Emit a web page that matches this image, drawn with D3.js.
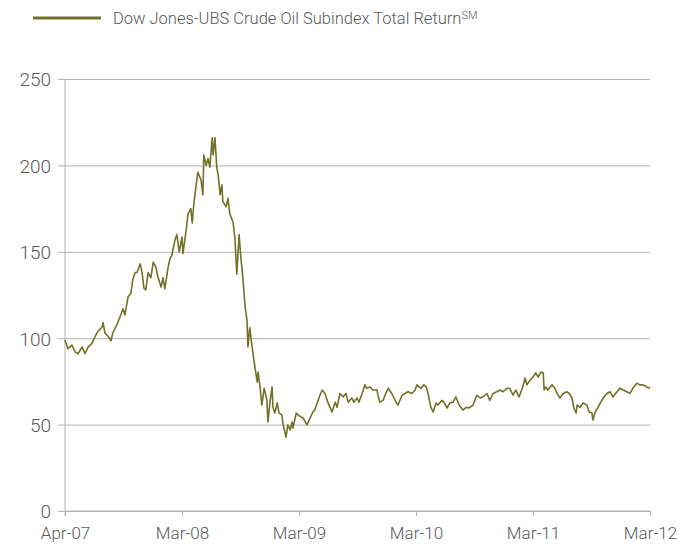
<!DOCTYPE html>
<html>
<head>
<meta charset="utf-8">
<script src="https://cdn.jsdelivr.net/npm/d3@7"></script>
<style>
  body { margin: 0; background: #fff; }
  text { font-family: Roboto, "Liberation Sans", sans-serif; font-weight: 300; }
</style>
</head>
<body>
<svg id="chart" width="680" height="547"></svg>
<script>
// trading day since start (approx) and index level
var tradingDay = [0,6,15,22,28,37,43,50,58,65,71,80,82,86,93,99,103,112,118,125,129,136,142,146,151,155,162,166,170,174,179,185,190,196,200,207,211,215,222,226,230,237,241,246,252,254,261,265,271,274,278,282,286,293,297,299,304,308,312,317,319,323,327,330,334,338,340,347,351,355,362,366,370,375,379,381,383,388,392,394,398,403,407,414,416,420,424,429,435,437,442,446,448,452,457,461,467,470,476,480,485,489,491,498,502,508,513,521,528,534,538,545,549,554,560,566,575,582,586,592,599,605,610,618,622,629,633,640,646,650,657,663,672,674,678,685,691,696,704,711,717,726,732,739,747,754,758,767,773,778,782,788,793,799,803,812,816,823,829,836,842,849,857,864,870,879,887,894,900,909,915,922,930,937,943,952,958,965,971,978,986,991,995,1002,1008,1014,1019,1025,1030,1032,1036,1040,1049,1055,1060,1066,1073,1081,1086,1092,1096,1101,1103,1109,1116,1124,1129,1135,1137,1142,1148,1154,1161,1167,1174,1180,1189,1195,1202,1210,1217,1223,1232,1238,1245,1253,1260];
var level = [99,94,96,92,91,95,91,95,97,101,104,106.5,109,103,101,98.5,103,108,112,117,113.5,124,126,134,138,138,143,138,129,128,138,135,144,141,135.5,129.6,135,128.5,141,146,148,157,160,150,158.6,149,162.6,172,175,166.7,179,187.5,196,191.5,183,206,200,204,199,216,206,216,198.5,194.4,183,188.7,179,176,181,172,167,158,137,160,146,141,135,118,110.5,95,106,95,87,74.6,80.4,71.8,61.3,71,64,51.5,64,71.8,60,56.7,62.5,56.7,55.6,49.8,42.8,49.8,46.9,51.5,48,56.7,55.6,54.4,53.8,49.8,53.8,57.3,58.4,64,67,70,68,63,57.3,63,60,68,66,68,63,65.4,63,65.4,63,68,73,71,71.8,70,70,67,63,64,68,71,68,64,61.3,67,68,69,68,70,73,71,73,71.8,68,60,57.3,62.5,61.3,64,63,59.6,62.5,63,66,61.3,58.4,60,59.6,61.3,67,65.4,66,68,64,68,69,70,69,71,71,67,70,66,71.8,77,73,75.8,77.5,80,77.5,80.4,80,70,71.8,70,73,71,68,65.4,68,69,68,65.4,59.6,56.7,61.3,60,62.5,61.3,57.3,56.7,52.7,57.3,60,63,66,68,69,66,69,71,70,69,68,71,74,73,73,71.8,71];

var tickDays = [0,252,504,756,1008,1260];
var tickLabels = ["Apr-07","Mar-08","Mar-09","Mar-10","Mar-11","Mar-12"];
var yTicks = [0,50,100,150,200,250];
var seriesName = "Dow Jones-UBS Crude Oil Subindex Total Return";

function makeChart() {
    var svg = d3.select("#chart");
    var padL = 65, padR = 650, padT = 79, padB = 511;
    var lineColor = "#717128";
    var gridColor = "#b4b4b4";
    var textColor = "#595959";

    var scX = d3.scaleLinear().domain([0,1260]).range([padL,padR]);
    var scY = d3.scaleLinear().domain([0,250]).range([padB,padT]);

    // horizontal gridlines + y labels
    var yAxis = svg.append("g")
        .attr("transform","translate(" + padL + ",0)")
        .call(d3.axisLeft(scY).tickValues(yTicks).tickSize(-(padR-padL)).tickPadding(14));
    yAxis.select(".domain").remove();
    yAxis.selectAll("line").attr("stroke",gridColor).attr("x1",-7);
    yAxis.selectAll("text").attr("fill",textColor).style("font-size","19px").attr("dy","0.36em");

    // x axis
    var xAxis = svg.append("g")
        .attr("transform","translate(0," + padB + ")")
        .call(d3.axisBottom(scX).tickValues(tickDays).tickFormat((d,i) => tickLabels[i]).tickSize(5).tickPadding(11));
    xAxis.select(".domain").attr("stroke",gridColor).attr("d","M" + padL + ",0H" + padR);
    xAxis.selectAll("line").attr("stroke",gridColor);
    xAxis.selectAll("text").attr("fill",textColor).style("font-size","17px");

    // left axis line
    svg.append("line")
        .attr("x1",padL).attr("x2",padL)
        .attr("y1",padT).attr("y2",padB+5)
        .attr("stroke",gridColor);

    var lineMaker = d3.line()
        .x((d,i) => scX(tradingDay[i]))
        .y(d => scY(d));

    svg.append("path")
        .attr("fill","none").attr("stroke",lineColor)
        .attr("stroke-width",1.6).attr("stroke-linejoin","round")
        .attr("d",lineMaker(level));

    // legend
    var legend = svg.append("g");
    legend.append("line")
        .attr("x1",33).attr("x2",101).attr("y1",18).attr("y2",18)
        .attr("stroke",lineColor).attr("stroke-width",3);
    var lt = legend.append("text")
        .attr("x",113).attr("y",24)
        .attr("fill",textColor)
        .style("font-size","16.5px");
    lt.append("tspan").text(seriesName);
    lt.append("tspan").attr("dy",-5).style("font-size","11px").text("SM");
}

makeChart();
</script>
</body>
</html>
